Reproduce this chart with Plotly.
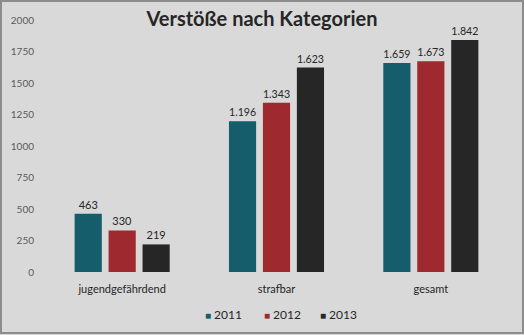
import plotly.graph_objects as go

categories = ["jugendgefährdend", "strafbar", "gesamt"]
years = ["2011", "2012", "2013"]
values_2011 = [463, 1196, 1659]
values_2012 = [330, 1343, 1673]
values_2013 = [219, 1623, 1842]
y_ticks = [0, 250, 500, 750, 1000, 1250, 1500, 1750, 2000]

series = [values_2011, values_2012, values_2013]
colors = ["#155d6a", "#9e2a2f", "#262626"]

W, H = 524, 335
ml, mr, mt, mb = 45, 16, 20, 63
pw, ph = W - ml - mr, H - mt - mb

fig = go.Figure()
for name, vals, col in zip(years, series, colors):
    fig.add_trace(go.Bar(
        x=categories, y=vals, name=name, showlegend=False,
        marker=dict(color=col, line=dict(width=0)),
        text=vals, texttemplate="%{y:,}", textposition="outside",
        textfont=dict(size=11, color="#262626"),
        cliponaxis=False,
    ))

# compact legend: small coloured square followed by the year
legend_x = [0.342, 0.469, 0.590]
for name, col, lx in zip(years, colors, legend_x):
    fig.add_annotation(
        xref="paper", yref="paper", x=lx, y=-(314 - mt - ph) / ph,
        xanchor="left", yanchor="middle", showarrow=False,
        text=f"<span style='color:{col};font-size:10px'>■</span> {name}",
        font=dict(family="Lato", size=12, color="#262626"),
    )

# light frame around the whole chart
fig.add_shape(type="rect", xref="paper", yref="paper",
              x0=-(ml - 1) / pw, x1=1 + (mr - 1) / pw,
              y0=-(mb - 2) / ph, y1=1 + (mt - 1) / ph,
              line=dict(color="#8c8c8c", width=2), layer="below")

fig.update_layout(
    width=W, height=H,
    margin=dict(l=ml, r=mr, t=mt, b=mb, autoexpand=False),
    paper_bgcolor="#d9d9d9", plot_bgcolor="#d9d9d9",
    font=dict(family="Lato", color="#595959", size=11),
    separators=",.",
    barmode="group", bargap=0.34, bargroupgap=0.2,
    title=dict(text="<b>Verstöße nach Kategorien</b>", x=(262 - ml) / pw, xref="paper",
               xanchor="center", y=1 - 19 / H, yanchor="middle",
               font=dict(family="Lato", size=20, color="#262626")),
    showlegend=False,
    xaxis=dict(showgrid=False, showline=False, zeroline=False, ticks="",
               automargin=False,
               tickfont=dict(size=11, color="#262626"), ticklabelstandoff=9),
    yaxis=dict(range=[0, 2000], tickvals=y_ticks, showgrid=False, showline=False,
               automargin=False,
               zeroline=False, ticks="", tickfont=dict(size=10, color="#595959"),
               ticklabelstandoff=10),
)

fig.write_html("out.html")
